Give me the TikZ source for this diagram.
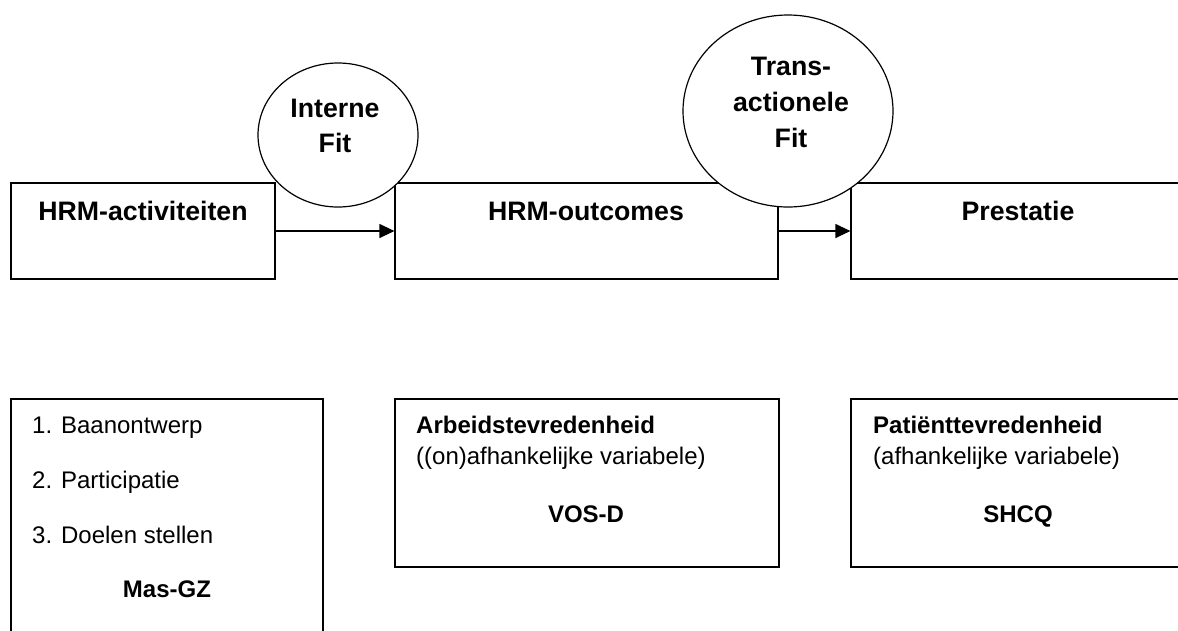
\documentclass[tikz,border=0pt]{standalone}
\usepackage{fontspec}
\setmainfont{Liberation Sans}
\usetikzlibrary{arrows.meta,shapes.geometric}
\begin{document}
\begin{tikzpicture}[x=1pt,y=-1pt,
  box/.style={draw=black, line width=1.2pt, rectangle, inner sep=0pt},
  fitbubble/.style={draw=black, fill=white, line width=1.2pt, ellipse, inner sep=0pt},
  arr/.style={line width=1.2pt, -{Triangle[length=15pt,width=14pt]}},
  big/.style={font=\fontsize{26.7}{31}\selectfont\bfseries, anchor=base, inner sep=0pt},
  bl/.style={font=\fontsize{24}{29}\selectfont\bfseries, anchor=base, inner sep=0pt},
  rgw/.style={font=\fontsize{24}{29}\selectfont, anchor=base west, inner sep=0pt},
  blw/.style={font=\fontsize{24}{29}\selectfont\bfseries, anchor=base west, inner sep=0pt},
]
\useasboundingbox (0,0) rectangle (1178,630);
\clip (0,0) rectangle (1178,630);
% top row boxes
\node[box, minimum width=264pt, minimum height=96pt] (act) at (143,231) {};
\node[box, minimum width=383pt, minimum height=96pt] (out) at (586.5,231) {};
\node[box, minimum width=334pt, minimum height=96pt] (pre) at (1018,231) {};
\draw[arr] (act.east) -- (out.west);
\draw[arr] (out.east) -- (pre.west);
% bottom row boxes
\node[box, minimum width=312pt, minimum height=301pt] (masgz) at (167,549.5) {};
\node[box, minimum width=384pt, minimum height=168pt] (vosd) at (587,483) {};
\node[box, minimum width=334pt, minimum height=168pt] (shcq) at (1018,483) {};
% fit bubbles
\node[fitbubble, minimum width=160pt, minimum height=144pt] (fit1) at (338,135) {};
\node[fitbubble, minimum width=210pt, minimum height=192pt] (fit2) at (788,111) {};
% labels
\node[big] (lact) at (143,220) {HRM-activiteiten};
\node[big] (lout) at (586,220) {HRM-outcomes};
\node[big] (lpre) at (1018,220) {Prestatie};
\node[big] (lf1a) at (335,117) {Interne};
\node[big] (lf1b) at (335,152) {Fit};
\node[big] (lf2a) at (791,75) {Trans-};
\node[big] (lf2b) at (791,111) {actionele};
\node[big] (lf2c) at (791,147) {Fit};
% box A
\node[rgw] (a1) at (32,433) {1. Baanontwerp};
\node[rgw] (a2) at (32,488) {2. Participatie};
\node[rgw] (a3) at (32,543) {3. Doelen stellen};
\node[bl] (a4) at (167,597) {Mas-GZ};
% box B
\node[blw] (b1) at (416,433) {Arbeidstevredenheid};
\node[rgw] (b2) at (416,464) {((on)afhankelijke variabele)};
\node[bl] (b3) at (586,522) {VOS-D};
% box C
\node[blw] (c1) at (873,433) {Patiënttevredenheid};
\node[rgw] (c2) at (873,464) {(afhankelijke variabele)};
\node[bl] (c3) at (1018,522) {SHCQ};
\end{tikzpicture}
\end{document}
